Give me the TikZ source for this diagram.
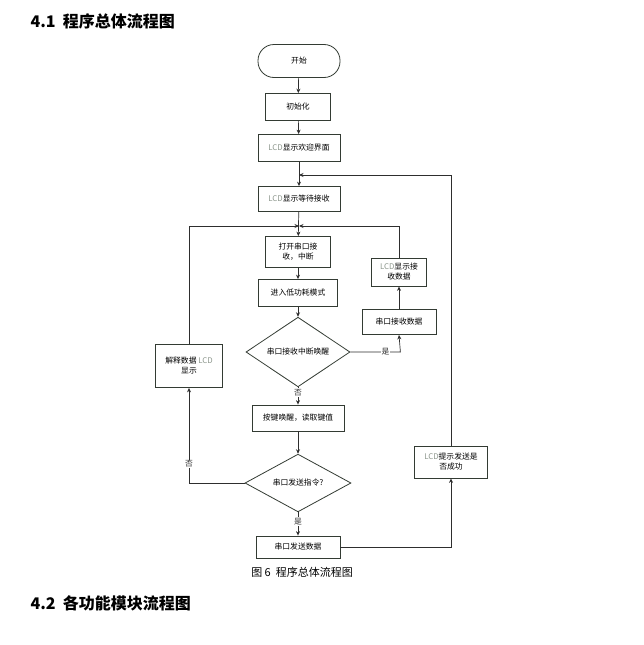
\documentclass[tikz,border=0pt]{standalone}
\usepackage{fontspec}
\setmainfont{Noto Sans CJK SC}
\usetikzlibrary{arrows.meta,shapes.geometric}
\definecolor{ink}{HTML}{2E2E2E}
\definecolor{frame}{HTML}{333B33}
\definecolor{lcdgray}{HTML}{8C968C}

\begin{document}
\begin{tikzpicture}[
  x=1pt,
  y=-1pt,
  >={Stealth[length=4.5pt,width=4pt]},
  box/.style={draw=frame,line width=0.8pt,fill=white,font=\fontsize{7.8}{10}\selectfont,align=center,inner sep=1pt},
  term/.style={box,rounded corners=16pt},
  decision/.style={draw=frame,line width=0.8pt,diamond,fill=white,font=\fontsize{7.8}{10}\selectfont,inner sep=0pt},
  flow/.style={->,ink,line width=0.7pt},
  tag/.style={font=\fontsize{7.8}{9}\selectfont,fill=white,inner sep=1pt},
  heading/.style={font=\fontsize{16}{18}\bfseries\selectfont,anchor=west}
]
\useasboundingbox (0,0) rectangle (643,645);

% Headings
\node[heading] (h41) at (27,21) {4.1\ \ 程序总体流程图};
\node[heading] (h42) at (27,603) {4.2\ \ 各功能模块流程图};
\node[font=\fontsize{11}{13}\selectfont] (cap) at (302,572) {图 6\ \ 程序总体流程图};

% Main column
\node[term,minimum width=82,minimum height=33] (start) at (299,61) {开始};
\node[box,minimum width=65,minimum height=27] (init) at (298,107) {初始化};
\node[box,minimum width=82,minimum height=27] (welcome) at (299,148)
  {\textcolor{lcdgray}{LCD}显示欢迎界面};
\node[box,minimum width=82,minimum height=25] (wait) at (299,199)
  {\textcolor{lcdgray}{LCD}显示等待接收};
\node[box,minimum width=65,minimum height=31] (openrx) at (298,252)
  {打开串口接\\收，中断};
\node[box,minimum width=79,minimum height=27] (sleep) at (298,293) {进入低功耗模式};
\node[decision,minimum width=104,minimum height=57] (wake) at (298,352) {串口接收中断唤醒};
\node[box,minimum width=92,minimum height=26] (key) at (298,418) {按键唤醒，读取键值};
\node[decision,minimum width=106,minimum height=56] (send) at (298,483) {串口发送指令?};
\node[box,minimum width=84,minimum height=22] (txdata) at (298,547) {串口发送数据};

% Side boxes
\node[box,minimum width=74,minimum height=25] (rxdata) at (399,322) {串口接收数据};
\node[box,minimum width=55,minimum height=28] (rxshow) at (399,272)
  {\textcolor{lcdgray}{LCD}显示接\\收数据};
\node[box,minimum width=67,minimum height=43] (decode) at (189,366)
  {解释数据\ \textcolor{lcdgray}{LCD}\\显示};
\node[box,minimum width=73,minimum height=32] (txok) at (451,462)
  {\textcolor{lcdgray}{LCD}提示发送是\\否成功};

% Join points
\coordinate (jtop) at (299,175);
\coordinate (jmid) at (299,226);

% Main flow
\draw[flow] (start) -- (init);
\draw[flow] (init) -- (welcome);
\draw[flow] (welcome) -- (wait);
\draw[flow] (wait) -- (openrx);
\draw[flow] (openrx) -- (sleep);
\draw[flow] (sleep) -- (wake);
\draw[flow] (wake) -- node[tag,pos=0.3] {否} (key);
\draw[flow] (key) -- (send);
\draw[flow] (send) -- node[tag,pos=0.4] {是} (txdata);

% Receive branch
\draw[flow] (wake.east) -- node[tag,pos=0.7] {是} ++(50,0) -- (rxdata.south);
\draw[flow] (rxdata) -- (rxshow);
\draw[flow] (rxshow.north) |- (jmid);

% Key branch
\draw[flow] (send.west) -| node[tag,pos=0.6] {否} (decode.south);
\draw[flow] (decode.north) |- (jmid);

% Send result
\draw[flow] (txdata.east) -| (txok.south);
\draw[flow] (txok.north) |- (jtop);

\end{tikzpicture}
\end{document}
